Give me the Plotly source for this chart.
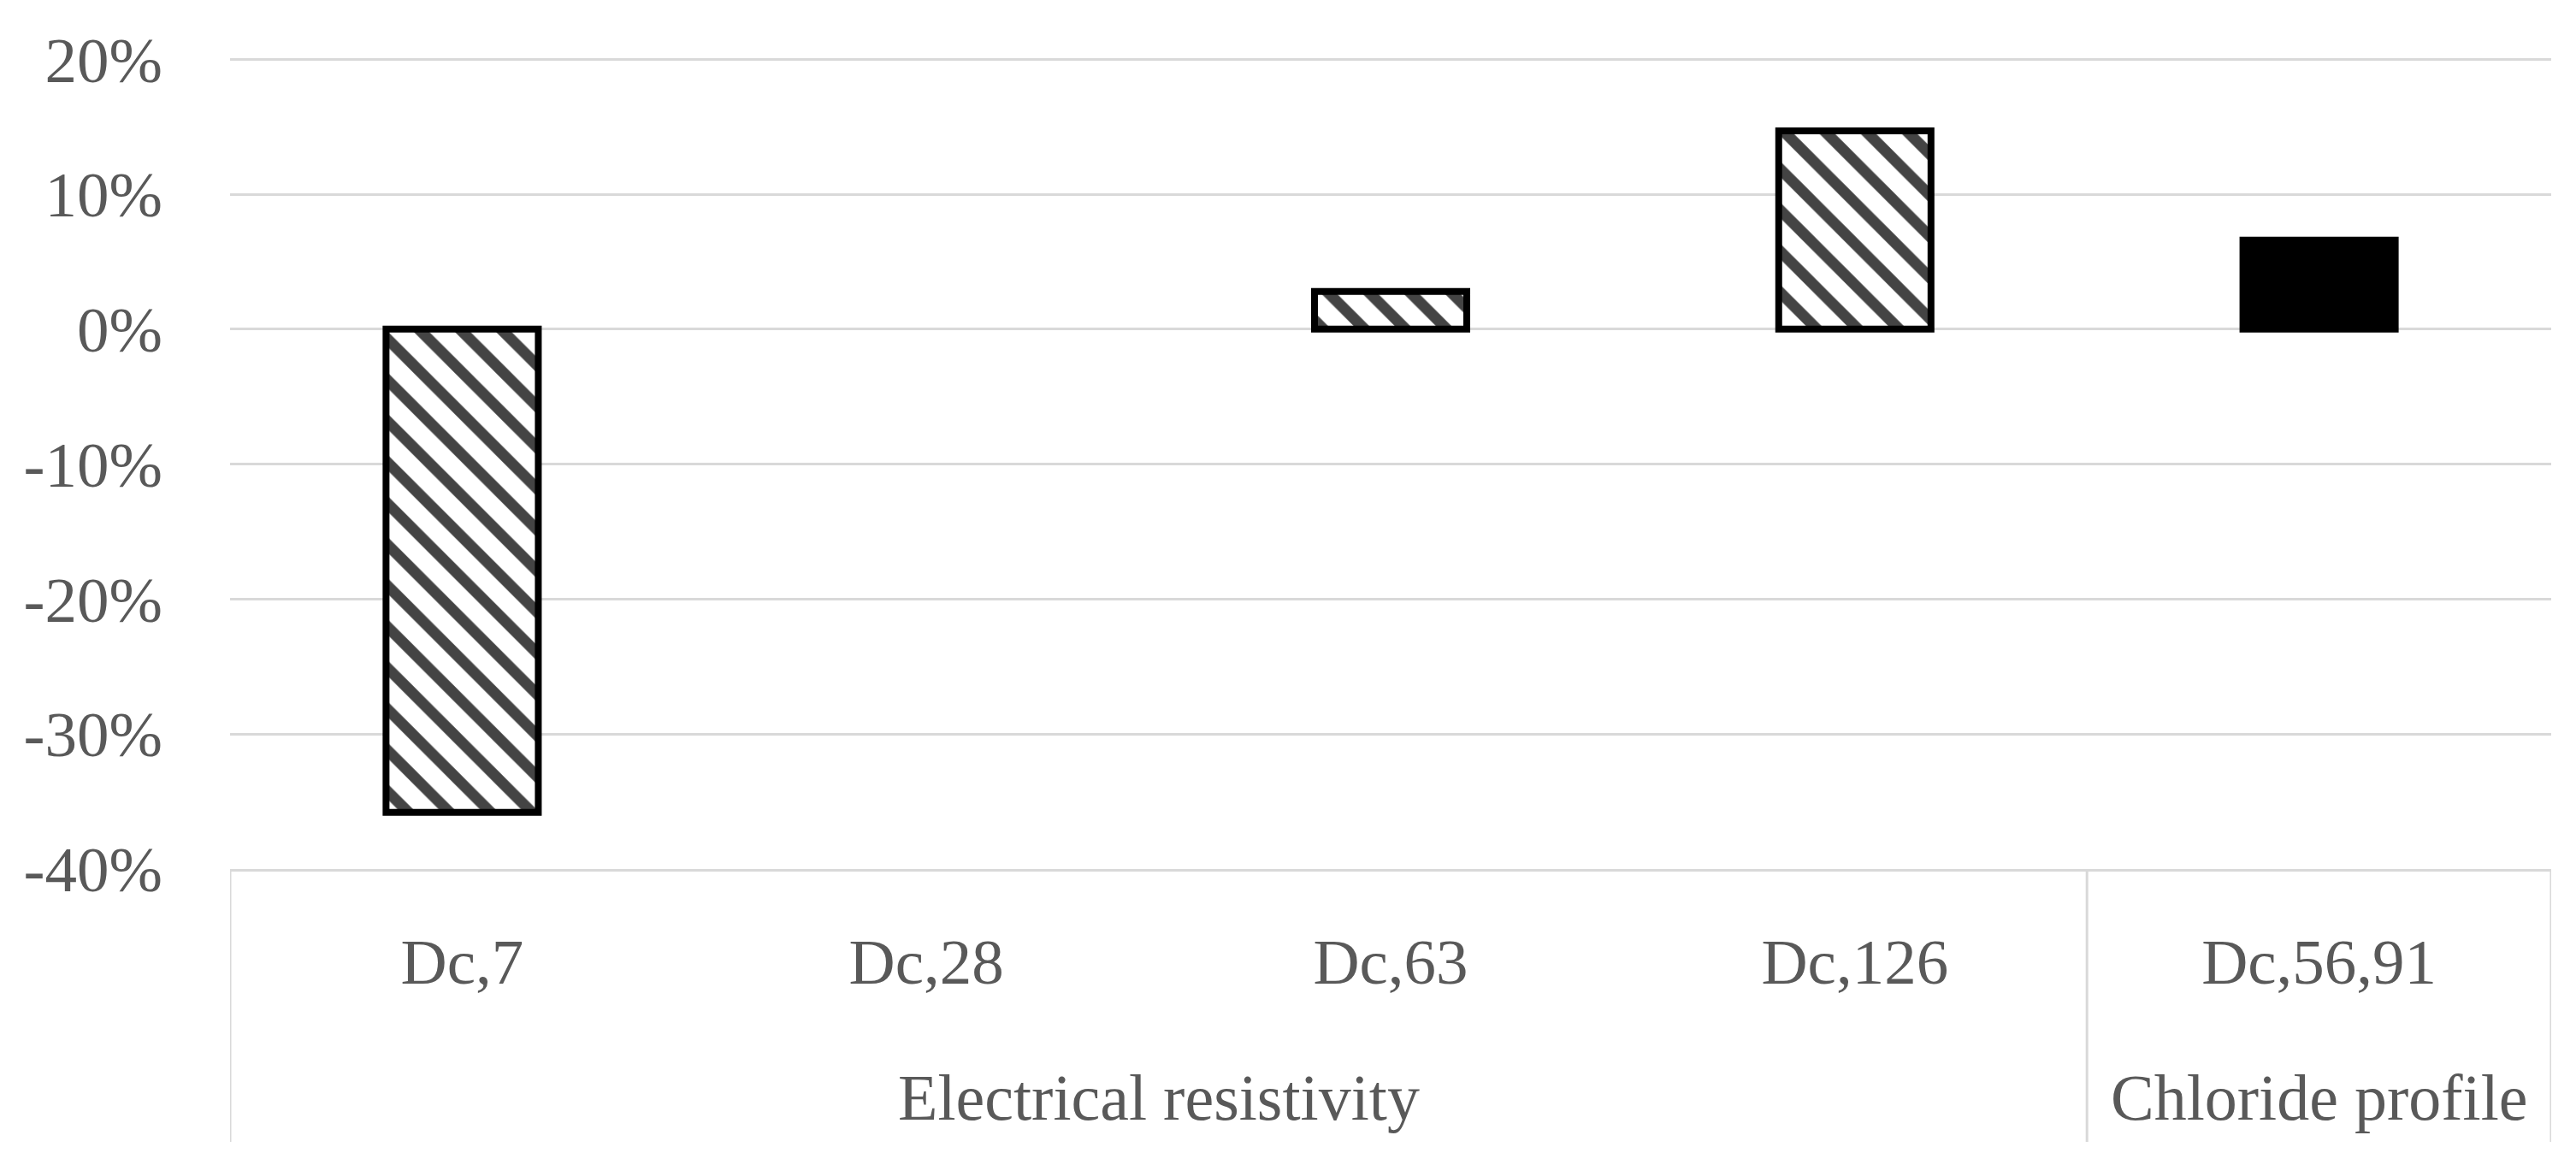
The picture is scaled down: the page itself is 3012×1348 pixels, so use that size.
import plotly.graph_objects as go

# ---- data ----
categories = ["Dc,7", "Dc,28", "Dc,63", "Dc,126", "Dc,56,91"]
groups = ["Electrical resistivity", "Electrical resistivity", "Electrical resistivity",
          "Electrical resistivity", "Chloride profile"]
values = [-0.358, 0.0, 0.028, 0.147, 0.066]
pattern_shapes = ["\\", "\\", "\\", "\\", ""]
bar_colors = ["white", "white", "white", "white", "black"]
y_ticks = [-0.4, -0.3, -0.2, -0.1, 0.0, 0.1, 0.2]
y_ticktext = [f"{round(v * 100)}%" for v in y_ticks]

FONT = "Liberation Serif"
TXT = "#595959"
GRID = "#d9d9d9"

fig = go.Figure()
fig.add_trace(go.Bar(
    x=list(range(len(categories))),
    y=values,
    marker=dict(
        color=bar_colors,
        line=dict(color="black", width=[0 if v == 0 else 8 for v in values]),
        pattern=dict(shape=pattern_shapes, fgcolor="#000000", fgopacity=1,
                     size=34, solidity=0.38, fillmode="overlay"),
    ),
    showlegend=False,
))

OFF = 8  # default page body margin
W, H = 3012 - OFF, 1348 - OFF
y_lo, y_hi = -0.4, 0.2008
ml, mr, mb = 269 - OFF, 29, 332
plot_h = 947 * (y_hi - y_lo) / 0.6
mt = round(H - mb - plot_h)

fig.update_layout(
    width=W, height=H,
    margin=dict(l=ml, r=mr, t=mt, b=mb, pad=0),
    paper_bgcolor="white", plot_bgcolor="white",
    bargap=0.672,
    font=dict(family=FONT, size=74, color=TXT),
)
fig.update_yaxes(
    range=[y_lo, y_hi], tickvals=y_ticks, ticktext=y_ticktext,
    showgrid=True, gridcolor=GRID, gridwidth=3,
    zeroline=False, showline=False, ticks="",
    ticklabelstandoff=78,
    tickfont=dict(family=FONT, size=75, color=TXT),
)
fig.update_xaxes(
    range=[-0.5, len(categories) - 0.5],
    tickmode="array", tickvals=list(range(len(categories))), ticktext=categories,
    showgrid=False, zeroline=False,
    showline=True, linecolor=GRID, linewidth=3,
    ticks="", ticklabelstandoff=41,
    tickfont=dict(family=FONT, size=75, color=TXT),
)

# group dividers and group labels (multi-level category axis)
axis_y = H - mb
div_bottom = -(1335 - OFF - axis_y) / plot_h
bounds = [-0.5]
for i in range(1, len(groups)):
    if groups[i] != groups[i - 1]:
        bounds.append(i - 0.5)
bounds.append(len(groups) - 0.5)
for b in bounds:
    fig.add_shape(type="line", xref="x", yref="paper", x0=b, x1=b, y0=0, y1=div_bottom,
                  line=dict(color=GRID, width=3))

seen = []
for g in groups:
    if g not in seen:
        seen.append(g)
for g in seen:
    idx = [i for i, gg in enumerate(groups) if gg == g]
    fig.add_annotation(x=sum(idx) / len(idx), xref="x", y=-(1283 - OFF - axis_y) / plot_h,
                       yref="paper", text=g, showarrow=False, yanchor="middle",
                       font=dict(family=FONT, size=76, color=TXT))

fig.write_html("out.html")
